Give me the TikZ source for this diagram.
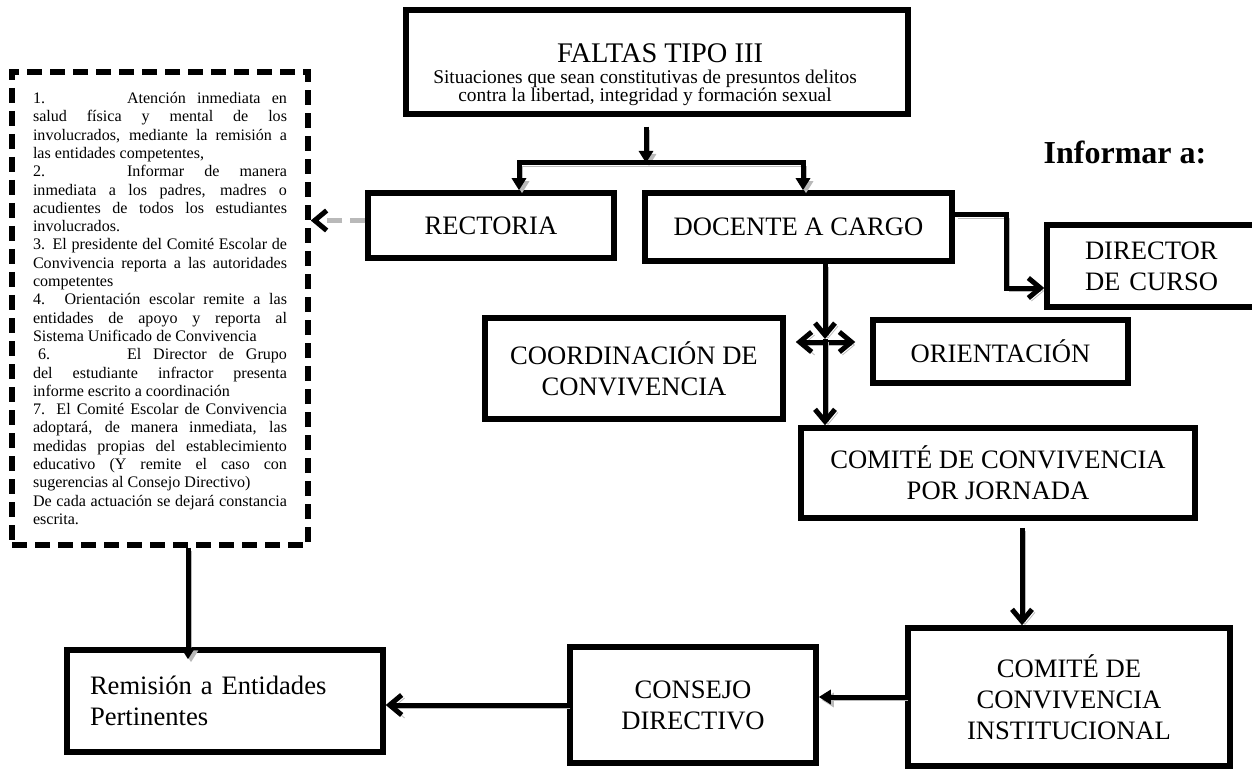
\documentclass[tikz,border=0pt]{standalone}
\usepackage{fontspec}
\setmainfont{Liberation Serif}
\usepackage{tikz}
\usetikzlibrary{arrows.meta}
\usetikzlibrary{calc}
\usetikzlibrary{positioning}
\tikzset{caja/.style={draw, line width=2.75pt, inner sep=4pt, align=center, font=\fontsize{13.3}{15.5}\selectfont}}
\tikzset{acciones/.style={draw, line width=2.75pt, dash pattern=on 7.5pt off 4pt, text width=127pt, inner xsep=10.5pt, align=justify, font=\fontsize{8.04}{9.15}\selectfont}}
\tikzset{flecha/.style={line width=2.5pt, preaction={draw=gray!55, transform canvas={shift={(1.5pt,-1.5pt)}}}}}
\tikzset{barb/.tip={Straight Barb[length=6pt,width=10pt]}}
\tikzset{tri/.tip={Triangle[length=6pt,width=7pt]}}

\begin{document}
\begin{tikzpicture}[x=0.5pt,y=-0.5pt]
\useasboundingbox (0,0) rectangle (1252,770);
\node[caja, minimum width=251pt, minimum height=50pt, font=\fontsize{9.7}{9}\selectfont] (faltas) at (657,62)
  {{\fontsize{14.2}{9}\selectfont\rule{0pt}{22.4pt}\hspace*{3pt}FALTAS TIPO III}\\[1.5pt]
   \hspace*{-12pt}Situaciones que sean constitutivas de presuntos delitos\\
   \hspace*{-12pt}contra la libertad, integridad y formación sexual};
\node[acciones, minimum height=236.5pt] (acc) at (160,308.5)
  {\leavevmode\hbox to 47pt{1.\hfil}Atención inmediata en\linebreak salud física y mental de los\linebreak involucrados, mediante la remisión a\linebreak las entidades competentes,\par
   \leavevmode\hbox to 47pt{2.\hfil}Informar de manera\linebreak inmediata a los padres, madres o\linebreak acudientes de todos los estudiantes\linebreak involucrados.\par
   3. El presidente del Comité Escolar de\linebreak Convivencia reporta a las autoridades\linebreak competentes\par
   4. Orientación escolar remite a las\linebreak entidades de apoyo y reporta al\linebreak Sistema Unificado de Convivencia\par
   \leavevmode\hspace*{2.5pt}\hbox to 44.5pt{6.\hfil}El Director de Grupo\linebreak del estudiante infractor presenta\linebreak informe escrito a coordinación\par
   7. El Comité Escolar de Convivencia\linebreak adoptará, de manera inmediata, las\linebreak medidas propias del establecimiento\linebreak educativo (Y remite el caso con\linebreak sugerencias al Consejo Directivo)\par
   De cada actuación se dejará constancia\linebreak escrita.};
\node[caja, minimum width=123pt, minimum height=32.5pt] (rectoria) at (491,225.5) {RECTORIA};
\node[caja, minimum width=153.5pt, minimum height=34pt] (docente) at (798.5,227) {DOCENTE A CARGO};
\node[font=\bfseries\fontsize{16}{19}\selectfont] (informar) at (1125,152) {Informar a:};
\node[caja, minimum width=108pt, minimum height=41pt, text width=70pt, align=left] (director) at (1155,266) {DIRECTOR\\DE CURSO};
\node[caja, minimum width=149pt, minimum height=50.5pt] (coordinacion) at (634,368.5) {COORDINACIÓN DE\\CONVIVENCIA};
\node[caja, minimum width=127.5pt, minimum height=31.5pt] (orientacion) at (1000.5,351.5) {ORIENTACIÓN};
\node[caja, minimum width=197pt, minimum height=45pt] (jornada) at (998,473) {COMITÉ DE CONVIVENCIA\\POR JORNADA};
\node[caja, minimum width=161pt, minimum height=69pt] (institucional) at (1069,697) {COMITÉ DE\\CONVIVENCIA\\INSTITUCIONAL};
\node[caja, minimum width=123pt, minimum height=58pt] (consejo) at (693,705) {CONSEJO\\DIRECTIVO};
\node[caja, minimum width=158pt, minimum height=51pt, text width=135pt, align=left] (remision) at (225,701) {Remisión a Entidades\\Pertinentes};

% ramal de la falta
\coordinate (ramal) at (646,163);
\coordinate (ramalizq) at (519,163);
\coordinate (ramalder) at (803,163);
\draw[flecha,-tri] ($(faltas.south -| ramal)+(0,10)$) -- (ramal);
\draw[flecha,tri-tri] (rectoria.north -| ramalizq) -- (ramalizq) -- (ramalder) -- (docente.north -| ramalder);
\draw[line width=2.5pt, gray!55, dash pattern=on 7.5pt off 4pt, -{Straight Barb[length=6pt,width=10pt,color=black]}] ([yshift=2.5pt]rectoria.west) -- ([yshift=2.5pt]rectoria.west -| acc.east);
\draw[flecha,-barb] ([yshift=6pt]docente.east) -- ++(26pt,0) |- ([yshift=-11pt]director.west);

% docente hacia los comites
\coordinate (eje) at (825,339);
\draw[flecha,-barb] (docente.south -| eje) -- (eje);
\draw[flecha,barb-barb] ($(coordinacion.east |- eje)+(10,3)$) -- ($(orientacion.west |- eje)+(-15,3)$);
\draw[flecha,-barb] (eje) -- (jornada.north -| eje);
\coordinate (bajada) at ([xshift=12pt]jornada.south);
\draw[flecha,-barb] ($(bajada)+(0,7)$) -- (bajada |- institucional.north);
\draw[flecha,-tri] (institucional.west) -- (institucional.west -| consejo.east);
\draw[flecha,-barb] (consejo.west) -- (consejo.west -| remision.east);
\coordinate (remite) at ($(acc.south)+(28,0)$);
\draw[flecha,-tri] (remite) -- ($(remite |- remision.north)+(0,12)$);
\end{tikzpicture}
\end{document}
